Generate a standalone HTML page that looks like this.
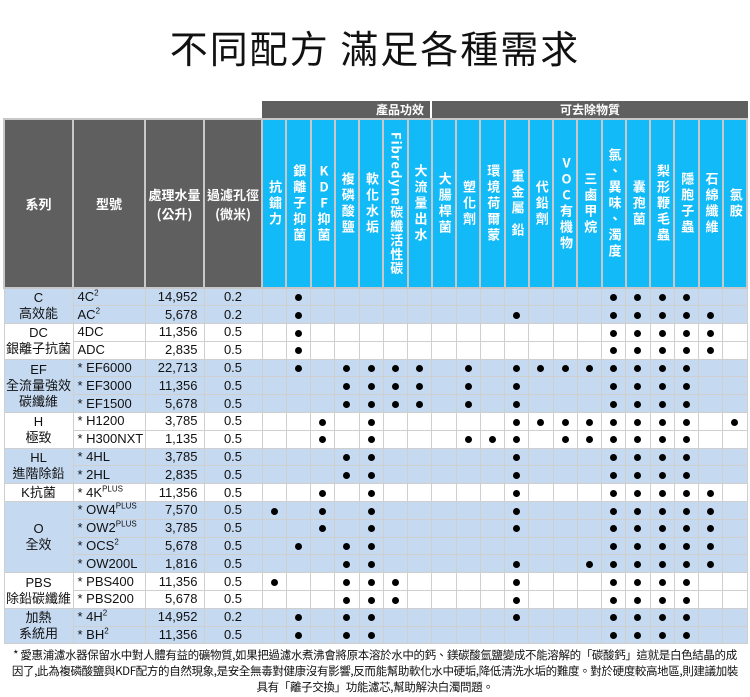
<!DOCTYPE html>
<html><head><meta charset="utf-8"><style>
*{margin:0;padding:0;box-sizing:border-box}
body{width:750px;height:697px;background:#fff;position:relative;overflow:hidden;font-family:"Liberation Sans","Noto Sans CJK TC",sans-serif;color:#111}
#title{position:absolute;left:0;width:750px;top:21px;text-align:center;font-size:38px;line-height:52px;font-family:"Noto Sans CJK TC",sans-serif;letter-spacing:2px}
.grp{position:absolute;top:101px;height:17px;background:#5f5f5f;color:#fff;font-size:12px;font-weight:bold;text-align:right;line-height:17px;padding-right:6px;font-family:"Noto Sans CJK TC",sans-serif}
table{position:absolute;left:3px;top:118px;border-collapse:collapse;table-layout:fixed;width:745px}
td,th{border:1px solid #cfcfcf;font-size:13px;overflow:hidden;white-space:nowrap}
th{border:2px solid #c8c8c8;height:169px;color:#fff;font-weight:bold;font-size:13px;font-family:"Noto Sans CJK TC",sans-serif}
th.d{background:#5f5f5f;font-weight:bold}
th.b{background:#13baf8;vertical-align:middle}
th.b div{writing-mode:vertical-rl;text-orientation:mixed;margin:0 auto;line-height:24px;letter-spacing:3px}
.u{text-orientation:upright}
td{height:17.8px;line-height:16px;text-align:center}
tr.bl td{background:#c5d9f1}
td.m{text-align:left;padding-left:4px}
td.w{text-align:right;padding-right:6px}
td.s{font-family:"Liberation Sans","Noto Sans CJK TC",sans-serif}
sup{font-size:8px;line-height:0}
.dot{display:inline-block;width:7px;height:7px;border-radius:50%;background:#000;vertical-align:middle}
#foot{position:absolute;left:0;width:750px;top:647px;font-size:11.5px;line-height:16px;text-align:center;font-family:"Noto Sans CJK TC",sans-serif;letter-spacing:-0.35px;white-space:nowrap}
</style></head><body>
<div id="title">不同配方 滿足各種需求</div>
<div class="grp" style="left:262px;width:168px">產品功效</div>
<div class="grp" style="left:432px;width:316px;text-align:center;padding:0">可去除物質</div>
<table id="t">
<colgroup><col style="width:69px"><col style="width:72px"><col style="width:59px"><col style="width:58px"></colgroup>
<tr>
<th class="d">系列</th><th class="d">型號</th><th class="d">處理水量<br>(公升)</th><th class="d">過濾孔徑<br>(微米)</th>
<th class="b"><div>抗鏽力</div></th>
<th class="b"><div>銀離子抑菌</div></th>
<th class="b"><div><span class="u">KDF</span>抑菌</div></th>
<th class="b"><div>複磷酸鹽</div></th>
<th class="b"><div>軟化水垢</div></th>
<th class="b"><div style="letter-spacing:1px">Fibredyne碳纖活性碳</div></th>
<th class="b"><div>大流量出水</div></th>
<th class="b"><div>大腸桿菌</div></th>
<th class="b"><div>塑化劑</div></th>
<th class="b"><div>環境荷爾蒙</div></th>
<th class="b"><div>重金屬 鉛</div></th>
<th class="b"><div>代鉛劑</div></th>
<th class="b"><div><span class="u">VOC</span>有機物</div></th>
<th class="b"><div>三鹵甲烷</div></th>
<th class="b"><div>氯、異味、濁度</div></th>
<th class="b"><div>囊孢菌</div></th>
<th class="b"><div>梨形鞭毛蟲</div></th>
<th class="b"><div>隱胞子蟲</div></th>
<th class="b"><div>石綿纖維</div></th>
<th class="b"><div>氯胺</div></th>
</tr>
<tr class="bl"><td rowspan="2" class="s">C<br>高效能</td><td class="m">4C<sup>2</sup></td><td class="w">14,952</td><td>0.2</td></tr>
<tr class="bl"><td class="m">AC<sup>2</sup></td><td class="w">5,678</td><td>0.2</td></tr>
<tr><td rowspan="2" class="s">DC<br>銀離子抗菌</td><td class="m">4DC</td><td class="w">11,356</td><td>0.5</td></tr>
<tr><td class="m">ADC</td><td class="w">2,835</td><td>0.5</td></tr>
<tr class="bl"><td rowspan="3" class="s">EF<br>全流量強效<br>碳纖維</td><td class="m">* EF6000</td><td class="w">22,713</td><td>0.5</td></tr>
<tr class="bl"><td class="m">* EF3000</td><td class="w">11,356</td><td>0.5</td></tr>
<tr class="bl"><td class="m">* EF1500</td><td class="w">5,678</td><td>0.5</td></tr>
<tr><td rowspan="2" class="s">H<br>極致</td><td class="m">* H1200</td><td class="w">3,785</td><td>0.5</td></tr>
<tr><td class="m">* H300NXT</td><td class="w">1,135</td><td>0.5</td></tr>
<tr class="bl"><td rowspan="2" class="s">HL<br>進階除鉛</td><td class="m">* 4HL</td><td class="w">3,785</td><td>0.5</td></tr>
<tr class="bl"><td class="m">* 2HL</td><td class="w">2,835</td><td>0.5</td></tr>
<tr><td class="s">K抗菌</td><td class="m">* 4K<sup>PLUS</sup></td><td class="w">11,356</td><td>0.5</td></tr>
<tr class="bl"><td rowspan="4" class="s">O<br>全效</td><td class="m">* OW4<sup>PLUS</sup></td><td class="w">7,570</td><td>0.5</td></tr>
<tr class="bl"><td class="m">* OW2<sup>PLUS</sup></td><td class="w">3,785</td><td>0.5</td></tr>
<tr class="bl"><td class="m">* OCS<sup>2</sup></td><td class="w">5,678</td><td>0.5</td></tr>
<tr class="bl"><td class="m">* OW200L</td><td class="w">1,816</td><td>0.5</td></tr>
<tr><td rowspan="2" class="s">PBS<br>除鉛碳纖維</td><td class="m">* PBS400</td><td class="w">11,356</td><td>0.5</td></tr>
<tr><td class="m">* PBS200</td><td class="w">5,678</td><td>0.5</td></tr>
<tr class="bl"><td rowspan="2" class="s">加熱<br>系統用</td><td class="m">* 4H<sup>2</sup></td><td class="w">14,952</td><td>0.2</td></tr>
<tr class="bl"><td class="m">* BH<sup>2</sup></td><td class="w">11,356</td><td>0.5</td></tr>
</table>
<div id="foot">* 愛惠浦濾水器保留水中對人體有益的礦物質,如果把過濾水煮沸會將原本溶於水中的鈣、鎂碳酸氫鹽變成不能溶解的「碳酸鈣」這就是白色結晶的成<br>因了,此為複磷酸鹽與KDF配方的自然現象,是安全無毒對健康沒有影響,反而能幫助軟化水中硬垢,降低清洗水垢的難度。對於硬度較高地區,則建議加裝<br>具有「離子交換」功能濾芯,幫助解決白濁問題。</div>
<script>
var D=[[1,14,15,16,17],[1,10,14,15,16,17,18],[1,14,15,16,17,18],[1,14,15,16,17,18],
[1,3,4,5,6,8,10,11,12,13,14,15,16,17],[3,4,5,6,8,10,14,15,16,17],[3,4,5,6,8,10,14,15,16,17],
[2,4,10,11,12,13,14,15,16,17,19],[2,4,8,9,10,12,13,14,15,16,17],
[3,4,10,14,15,16,17],[3,4,10,14,15,16,17],[2,4,10,14,15,16,17,18],
[0,2,4,10,14,15,16,17,18],[2,4,10,14,15,16,17,18],[1,3,4,14,15,16,17,18],[3,4,10,13,14,15,16,17,18],
[0,3,4,5,10,14,15,16,17],[3,4,5,10,14,15,16,17],[1,3,4,10,14,15,16,17],[1,3,4,14,15,16,17]];
var rows=document.getElementById('t').rows;
for(var r=0;r<20;r++){var tr=rows[r+1];for(var c=0;c<20;c++){var td=document.createElement('td');if(D[r].indexOf(c)>=0)td.innerHTML='<span class="dot"></span>';tr.appendChild(td);}}
</script>
</body></html>
